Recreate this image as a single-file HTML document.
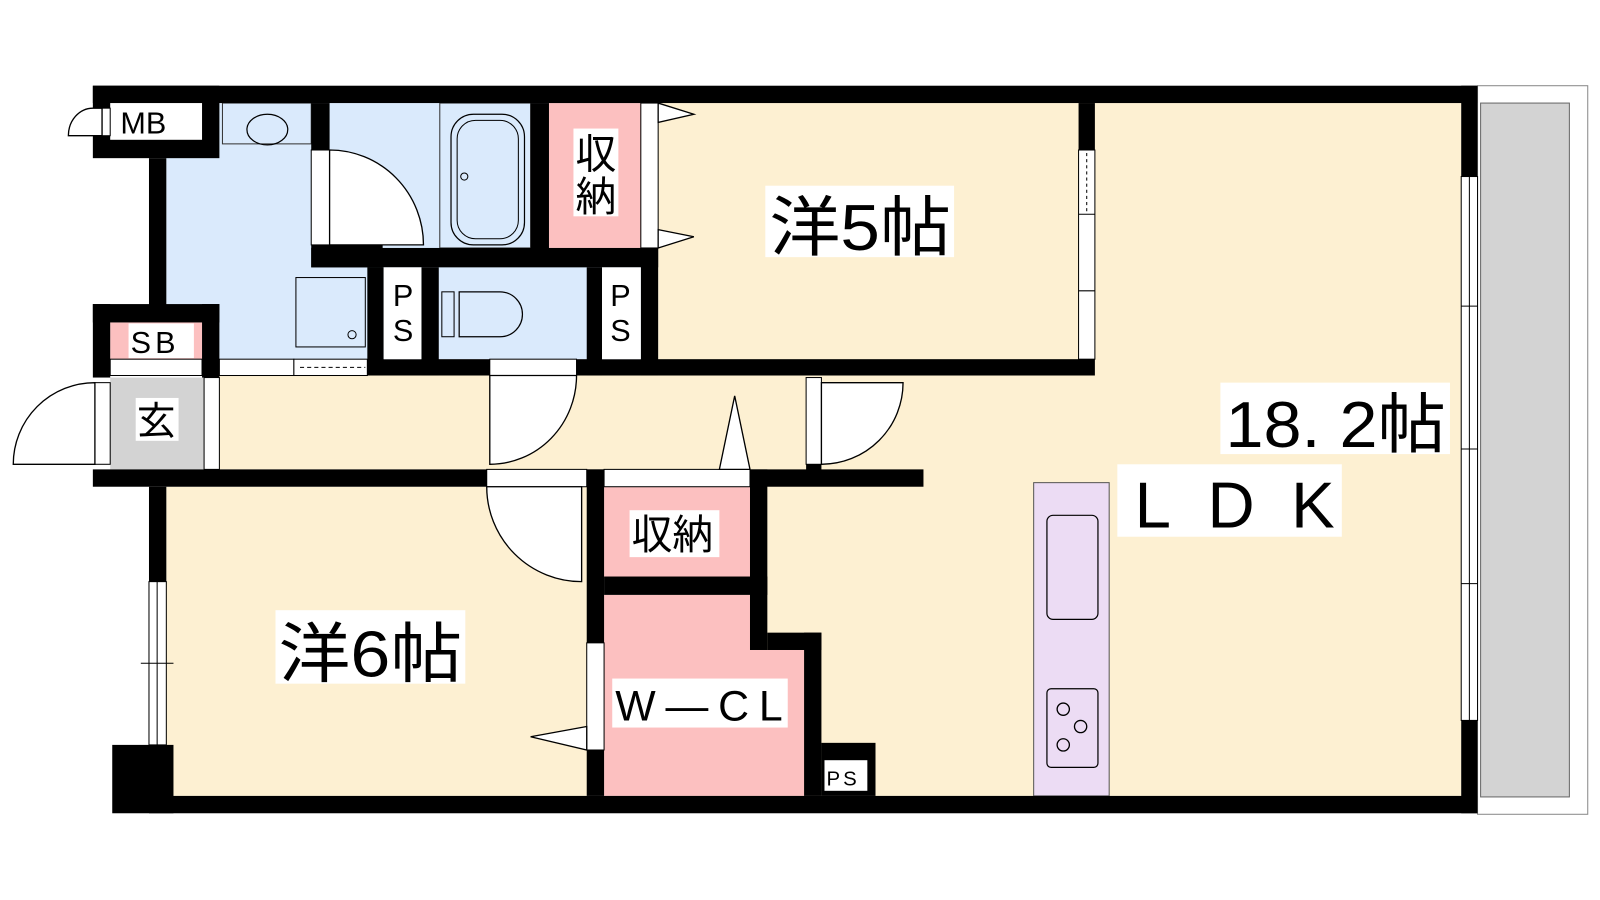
<!DOCTYPE html>
<html><head><meta charset="utf-8"><style>
html,body{margin:0;padding:0;background:#fff;}
svg{display:block}
text{font-family:"Liberation Sans","Noto Sans CJK JP",sans-serif;fill:#000}
</style></head><body>
<svg width="1600" height="900" viewBox="0 0 1600 900" xmlns="http://www.w3.org/2000/svg">
<g transform="scale(1.0204)">
<!-- balcony -->
<rect x="1448" y="84" width="108" height="714" fill="#fff" stroke="#888" stroke-width="1"/>
<rect x="1451" y="101" width="87" height="680" fill="#d3d3d3" stroke="#666" stroke-width="1"/>
<!-- floor fills -->
<rect x="645" y="101" width="787" height="679" fill="#fdf0d2"/>
<rect x="215" y="368" width="600" height="92" fill="#fdf0d2"/>
<rect x="163" y="477" width="415" height="303" fill="#fdf0d2"/>
<rect x="163" y="101" width="470" height="251" fill="#daeafc"/>
<rect x="538" y="101" width="90" height="142" fill="#fcc0c0"/>
<rect x="592" y="477" width="143" height="90" fill="#fcc0c0"/>
<path d="M592 583 H735 V637 H788 V780 H592 Z" fill="#fcc0c0"/>
<rect x="108" y="370" width="92" height="90" fill="#d3d3d3"/>
<rect x="108" y="316" width="90" height="36" fill="#fcc0c0"/>
<!-- kitchen -->
<rect x="1013" y="473" width="74" height="307" fill="#ecdcf4" stroke="#555" stroke-width="1"/>
<rect x="1026" y="505" width="50" height="102" rx="6" fill="none" stroke="#000" stroke-width="1.2"/>
<rect x="1026" y="675" width="50" height="77" rx="4" fill="none" stroke="#000" stroke-width="1.2"/>
<circle cx="1042" cy="695" r="6" fill="none" stroke="#000" stroke-width="1.3"/>
<circle cx="1059" cy="712" r="6" fill="none" stroke="#000" stroke-width="1.3"/>
<circle cx="1042" cy="730" r="6" fill="none" stroke="#000" stroke-width="1.3"/>
<!-- bath fixtures -->
<rect x="218" y="101" width="87" height="40" fill="none" stroke="#333" stroke-width="1"/>
<ellipse cx="262" cy="127" rx="20" ry="15" fill="none" stroke="#000" stroke-width="1.2"/>
<rect x="431" y="101" width="89" height="142" fill="none" stroke="#333" stroke-width="1"/>
<rect x="442" y="112" width="72" height="128" rx="22" fill="none" stroke="#000" stroke-width="1.2"/>
<rect x="448" y="118" width="60" height="116" rx="18" fill="none" stroke="#000" stroke-width="1"/>
<circle cx="455" cy="173" r="3.5" fill="none" stroke="#000"/>
<rect x="290" y="272" width="68" height="68" fill="none" stroke="#000" stroke-width="1"/>
<circle cx="345" cy="328" r="4" fill="none" stroke="#000"/>
<!-- toilet -->
<rect x="433" y="286" width="12" height="44" fill="none" stroke="#000"/>
<path d="M450 286 H490 A22 22 0 0 1 490 330 H450 Z" fill="none" stroke="#000" stroke-width="1.2"/>
<!-- walls -->
<g fill="#000">
<rect x="91" y="84" width="1357" height="17"/>
<rect x="91" y="84" width="124" height="71"/>
<rect x="146" y="155" width="17" height="145"/>
<rect x="91" y="298" width="124" height="18"/>
<rect x="91" y="298" width="17" height="72"/>
<rect x="198" y="298" width="17" height="72"/>
<rect x="91" y="460" width="814" height="17"/>
<rect x="146" y="477" width="17" height="93"/>
<rect x="110" y="730" width="60" height="67"/>
<rect x="146" y="780" width="1302" height="17"/>
<rect x="1432" y="84" width="16" height="89"/>
<rect x="1432" y="706" width="16" height="91"/>
<rect x="305" y="101" width="18" height="46"/>
<rect x="305" y="240" width="70" height="22"/>
<rect x="305" y="243" width="340" height="19"/>
<rect x="520" y="101" width="18" height="160"/>
<rect x="628" y="243" width="17" height="125"/>
<rect x="360" y="262" width="16" height="106"/>
<rect x="413" y="262" width="17" height="106"/>
<rect x="575" y="262" width="15" height="106"/>
<rect x="360" y="352" width="120" height="16"/>
<rect x="565" y="352" width="508" height="16"/>
<rect x="1057" y="101" width="16" height="46"/>
<rect x="790" y="455" width="15" height="8"/>
<rect x="575" y="460" width="17" height="320"/>
<rect x="735" y="460" width="17" height="177"/>
<rect x="592" y="565" width="160" height="18"/>
<rect x="752" y="620" width="53" height="17"/>
<rect x="788" y="620" width="17" height="160"/>
<rect x="805" y="728" width="53" height="52"/>
</g>
<!-- white wall inserts -->
<g fill="#fff" stroke="#000" stroke-width="1">
<rect x="108" y="101" width="90" height="36" stroke="none"/>
<rect x="100" y="106" width="8" height="27"/>
<rect x="108" y="352" width="90" height="16"/>
<rect x="200" y="370" width="15" height="90"/>
<rect x="93" y="375" width="15" height="80"/>
<rect x="215" y="352" width="73" height="16"/>
<rect x="288" y="352" width="72" height="16"/>
<rect x="305" y="147" width="18" height="93"/>
<rect x="628" y="101" width="17" height="142"/>
<rect x="376" y="262" width="37" height="90" stroke="none"/>
<rect x="590" y="262" width="38" height="90" stroke="none"/>
<rect x="480" y="352" width="85" height="16"/>
<rect x="477" y="460" width="98" height="17"/>
<rect x="592" y="460" width="143" height="17"/>
<rect x="790" y="370" width="15" height="85"/>
<rect x="575" y="630" width="17" height="105"/>
<rect x="146" y="570" width="17" height="160"/>
<rect x="1057" y="147" width="16" height="205"/>
<rect x="1432" y="173" width="16" height="533"/>
<rect x="808" y="745" width="42" height="30" stroke="none"/>
</g>
<line x1="294" y1="360" x2="358" y2="360" stroke="#000" stroke-dasharray="4,3"/>
<line x1="1065" y1="150" x2="1065" y2="210" stroke="#000" stroke-dasharray="3,3"/>
<line x1="1057" y1="210" x2="1073" y2="210" stroke="#000"/>
<line x1="1057" y1="285" x2="1073" y2="285" stroke="#000"/>
<line x1="1440" y1="173" x2="1440" y2="706" stroke="#000"/>
<line x1="1432" y1="440" x2="1448" y2="440" stroke="#000"/>
<line x1="1432" y1="300" x2="1448" y2="300" stroke="#000"/>
<line x1="1432" y1="572" x2="1448" y2="572" stroke="#000"/>
<line x1="138" y1="650" x2="170" y2="650" stroke="#000"/>
<line x1="154" y1="570" x2="154" y2="730" stroke="#000"/>
<!-- door swings -->
<g fill="#fff" stroke="#000" stroke-width="1.3">
<path d="M67 133 A24 27 0 0 1 91 106 L100 106 L100 133 Z"/>
<path d="M93 375 A80 80 0 0 0 13 455 L93 455 Z"/>
<path d="M323 147 A92 93 0 0 1 415 240 L323 240 Z"/>
<path d="M480 368 L565 368 A85 87 0 0 1 480 455 Z"/>
<path d="M805 375 H885 A80 80 0 0 1 805 455 Z"/>
<path d="M477 477 L570 477 L570 570 A93 93 0 0 1 477 477 Z"/>
<path d="M645 101 L680 112 L645 120 Z"/>
<path d="M645 225 L680 232 L645 243 Z"/>
<path d="M705 460 L720 388 L735 460 Z"/>
<path d="M575 712 L520 722 L575 735 Z"/>
</g>
<!-- labels -->
<g>
<rect x="750" y="182" width="185" height="70" fill="#fff"/>
<text x="754" y="245" font-size="64" textLength="178" lengthAdjust="spacingAndGlyphs">洋5帖</text>
<rect x="270" y="598" width="186" height="72" fill="#fff"/>
<text x="273" y="663" font-size="64" textLength="180" lengthAdjust="spacingAndGlyphs">洋6帖</text>
<rect x="1196" y="375" width="225" height="70" fill="#fff"/>
<text x="1201" y="438" font-size="64" textLength="216" lengthAdjust="spacingAndGlyphs">18. 2帖</text>
<rect x="1095" y="455" width="220" height="71" fill="#fff"/>
<text x="1112" y="517" font-size="64" textLength="196" lengthAdjust="spacing">LDK</text>
<rect x="562" y="126" width="44" height="86" fill="#fff"/>
<text x="564" y="165" font-size="40">収</text>
<text x="564" y="207" font-size="40">納</text>
<rect x="617" y="500" width="88" height="46" fill="#fff"/>
<text x="619" y="538" font-size="40">収納</text>
<rect x="600" y="665" width="172" height="48" fill="#fff"/>
<text x="603" y="706" font-size="42" textLength="164" lengthAdjust="spacing">W―CL</text>
<rect x="133" y="390" width="42" height="42" fill="#fff"/>
<text x="134" y="426" font-size="38">玄</text>
<text x="118" y="131" font-size="30">MB</text>
<rect x="126" y="317" width="64" height="34" fill="#fff"/>
<text x="128" y="346" font-size="30" letter-spacing="4">SB</text>
<text x="385" y="300" font-size="30">P</text>
<text x="385" y="334" font-size="30">S</text>
<text x="598" y="300" font-size="30">P</text>
<text x="598" y="334" font-size="30">S</text>
<text x="810" y="770" font-size="20" letter-spacing="3">PS</text>
</g>
</g>
</svg>
</body></html>
